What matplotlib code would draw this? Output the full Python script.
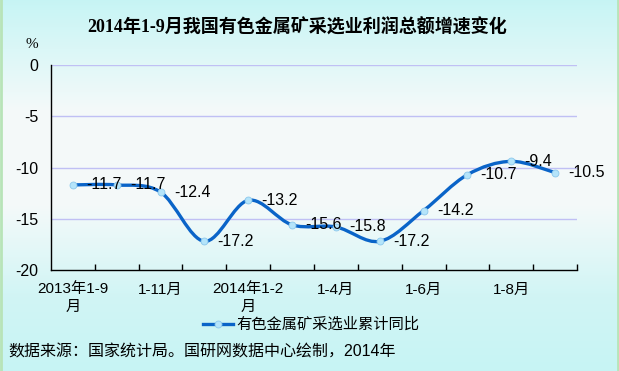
import numpy as np
import matplotlib
matplotlib.use("Agg")
import matplotlib.pyplot as plt
from matplotlib.path import Path
from matplotlib.patches import PathPatch
from matplotlib.lines import Line2D
from matplotlib.colors import LinearSegmentedColormap

# data
categories = ["2013年1-9\n月", "1-10月", "1-11月", "1-12月", "2014年1-2\n月", "1-3月",
              "1-4月", "1-5月", "1-6月", "1-7月", "1-8月", "1-9月"]
values = [-11.7, -11.7, -12.4, -17.2, -13.2, -15.6, -15.8, -17.2, -14.2, -10.7, -9.4, -10.5]
series_name = "有色金属矿采选业累计同比"
title = "2014年1-9月我国有色金属矿采选业利润总额增速变化"
source = "数据来源：国家统计局。国研网数据中心绘制，2014年"
yticks = [0, -5, -10, -15, -20]

sans = ["Liberation Sans", "Noto Sans CJK SC", "DejaVu Sans"]
serif = ["Liberation Serif", "Noto Sans CJK SC", "DejaVu Sans"]
plt.rcParams["font.family"] = sans

line_col = "#0a64c8"
marker_face = "#b4e4fa"
grid_col = "#c0c0f4"

fig = plt.figure(figsize=(6.19, 3.71), dpi=100)

# background gradient over whole figure
bg = fig.add_axes([0, 0, 1, 1], zorder=-10)
cmap = LinearSegmentedColormap.from_list("bg", [
    (0.0, (0.78, 0.96, 0.96)),
    (0.30, (0.96, 0.98, 0.98)),
    (0.55, (0.96, 0.98, 0.98)),
    (0.80, (0.82, 0.96, 0.96)),
    (1.0, (0.78, 0.96, 0.96))])
bg.imshow(np.linspace(0, 1, 256).reshape(-1, 1), aspect="auto", cmap=cmap,
          extent=[0, 1, 0, 1])
bg.axvline(0.001, color="#b8e4b8", lw=2)
bg.axvline(0.999, color="#b8e4b8", lw=2)
bg.set_axis_off()

ax = fig.add_axes([51 / 619, 1 - 270 / 371, 526 / 619, 205 / 371])
ax.patch.set_alpha(0)

x = np.arange(len(values))
y = np.array(values)

# smooth curve (Catmull-Rom as Bezier)
pts = np.column_stack([x, y])
verts = [pts[0]]
codes = [Path.MOVETO]
for i in range(len(pts) - 1):
    p0 = pts[i - 1] if i > 0 else pts[i]
    p1 = pts[i]
    p2 = pts[i + 1]
    p3 = pts[i + 2] if i + 2 < len(pts) else pts[i + 1]
    c1 = p1 + (p2 - p0) / 6
    c2 = p2 - (p3 - p1) / 6
    verts += [c1, c2, p2]
    codes += [Path.CURVE4] * 3
ax.add_patch(PathPatch(Path(verts, codes), fill=False, edgecolor=line_col,
                       lw=2.4, zorder=3, capstyle="round"))
ax.plot(x, y, ls="none", marker="o", ms=5, mfc=marker_face, mec="#8cc8ec",
        mew=0.6, zorder=4)

for xi, yi in zip(x, y):
    ax.annotate(f"{yi:.1f}", (xi, yi), xytext=(9.5, 0), textcoords="offset points",
                ha="left", va="center", fontsize=11.5, color="black", zorder=5,
                family=sans)

ax.set_xlim(-0.5, len(values) - 0.5)
ax.set_ylim(-20, 0)
ax.set_yticks(yticks)
ax.set_yticklabels([str(v) for v in yticks])
for v in yticks[:-1]:
    ax.axhline(v, color=grid_col, lw=1, zorder=1)

ax.set_xticks(x[::2])
ax.set_xticklabels(categories[::2], linespacing=1.3)
ax.set_xticks(np.arange(len(values)) + 0.5, minor=True)
ax.tick_params(axis="x", which="major", length=0, pad=9, labelsize=11)
ax.tick_params(axis="x", which="minor", direction="in", length=4, width=1, color="black")
ax.tick_params(axis="y", length=0, pad=9, labelsize=11.5)

for s in ["top", "right"]:
    ax.spines[s].set_visible(False)
for s in ["left", "bottom"]:
    ax.spines[s].set_color("black")
    ax.spines[s].set_linewidth(1)

fig.text(297 / 619, 1 - 27 / 371, title, ha="center", va="center", fontsize=13,
         fontweight="bold", family=serif)
fig.text(32 / 619, 1 - 45 / 371, "%", ha="center", va="center", fontsize=11, family=serif)

handle = Line2D([], [], color=line_col, lw=2.4, marker="o", ms=5, mfc=marker_face,
                mec="#8cc8ec", mew=0.6)
fig.legend([handle], [series_name], loc="center", bbox_to_anchor=(311 / 619, 1 - 325 / 371),
           frameon=False, handlelength=2.0, handletextpad=0.2,
           prop={"family": sans, "size": 11})

fig.text(8 / 619, 1 - 352 / 371, source, ha="left", va="center", fontsize=11.5, family=sans)

fig.savefig("out.png", dpi=100)
